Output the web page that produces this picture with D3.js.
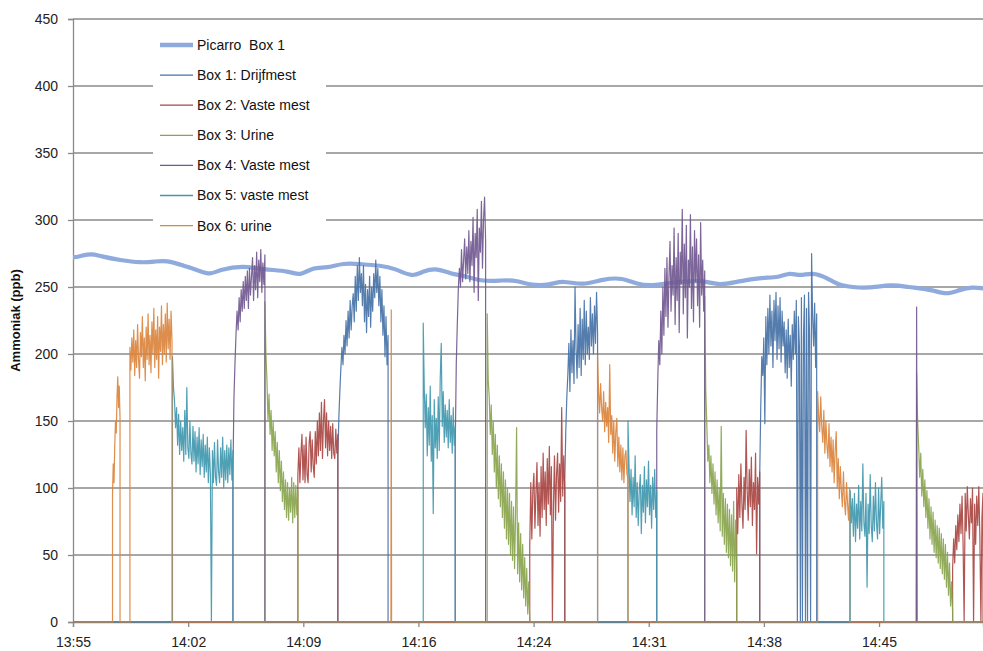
<!DOCTYPE html>
<html>
<head>
<meta charset="utf-8">
<script src="https://cdn.jsdelivr.net/npm/d3@7"></script>
<style>
  html, body { margin: 0; padding: 0; background: #fff; }
  svg { display: block; font-family: "Liberation Sans", Arial, sans-serif; }
</style>
</head>
<body>
<svg id="chart" width="983" height="651"></svg>
<script>
// ---------- DATA (minutes after 13:55) ----------
const tickMinutes = [0, 7.2, 14.4, 21.6, 28.8, 36, 43.2, 50.4];
const tickLabels = ["13:55", "14:02", "14:09", "14:16", "14:24", "14:31", "14:38", "14:45"];
const yTicks = [0, 50, 100, 150, 200, 250, 300, 350, 400, 450];

const seriesNames = ["Picarro  Box 1", "Box 1: Drijfmest", "Box 2: Vaste mest", "Box 3: Urine",
                     "Box 4: Vaste mest", "Box 5: vaste mest", "Box 6: urine"];
const seriesColors = ["#8FAADC", "#4572A7", "#AA4643", "#89A54E", "#71588F", "#4198AF", "#DB843D"];

const picarroTime = [0, 0.44, 1.17, 1.69, 2.94, 4.29, 5.13, 5.86, 6.88, 7.94, 8.56, 9.19, 10.63, 11.88,
  13.56, 14.19, 15.0, 15.88, 16.88, 18.06, 19.19, 20.13, 21.25, 21.88, 22.81, 23.56, 24.63, 25.63,
  26.88, 27.75, 28.69, 29.81, 30.63, 31.88, 33.13, 34.38, 35.25, 36.25, 37.31, 38.25, 39.38, 40.44,
  41.5, 42.94, 44.19, 44.81, 45.44, 46.25, 47.13, 47.94, 48.75, 49.63, 51.25, 52.13, 53.75, 54.63,
  55.44, 56.25, 56.88];
const picarroValue = [272, 273, 275, 273, 270, 268, 269, 270, 266, 262, 259, 263, 266, 263,
  262, 258, 265, 264, 268, 267, 266, 264, 257, 262, 264, 260, 258, 254, 255, 255, 251, 251.5, 255,
  251, 256, 257, 252, 251, 253, 254, 255, 251, 254, 257, 257, 261, 258, 261, 257, 251, 250, 249,
  252, 250, 248, 244, 248, 250, 249];

// Box 1: Drijfmest
const box1Segments = [
  {start: 16.56, end: 19.7, values: [123,153,173,190,205,192,214,200,225,206,232,212,240,218,236,245,224,258,232,266,240,272,246,260,236,266,224,252,216,248,228,258,220,250,232,260,242,270,246,264,236,258,224,248,214,236,198,228,192,214]},
  {start: 30.75, end: 32.8, values: [106,143,168,185,208,172,218,186,210,178,250,204,182,222,190,234,184,226,196,240,192,232,200,220,196,242,206,230,200,236,208,246,216]},
  {start: 42.94, end: 46.5, values: [111,160,198,184,212,148,228,192,234,200,244,206,232,190,240,210,246,196,236,204,242,194,232,206,224,186,218,182,226,190,214,176,222,196,232,200,240,0,228,206,0,242,0,212,244,0,234,0,246,214,0,275,228,206,238,190,230]}
];
// Box 2: Vaste mest
const box2Segments = [
  {start: 14.06, end: 16.56, values: [110,130,104,126,140,106,132,104,138,110,104,134,142,112,136,116,108,142,118,150,124,156,128,164,122,150,166,130,156,124,150,128,146,122,148,126,122,144,126,140]},
  {start: 28.56, end: 30.75, values: [56,104,62,98,111,70,96,119,72,104,64,116,78,126,84,112,72,122,88,131,80,116,0,88,124,76,110,126,82,118,90,160,94,124,98]},
  {start: 41.5, end: 42.94, values: [100,66,110,78,118,88,70,108,84,143,98,76,114,86,123,72,104,84,126,51,108,88,112]},
  {start: 55.0, end: 56.9, values: [40,62,44,72,54,80,60,88,66,94,58,0,96,68,101,80,62,92,74,100,0,88,58,94,72,101,64,0,78,96]}
];
// Box 3: Urine
const box3Segments = [
  {start: 12.0, end: 14.06, values: [239,200,180,150,170,140,158,128,150,124,142,112,134,104,128,98,120,90,112,84,106,78,104,76,100,82,108,74,104,78,102,80,98]},
  {start: 25.9, end: 28.56, values: [230,180,168,140,162,125,150,112,140,100,132,92,124,86,118,78,112,70,106,62,100,58,96,50,90,46,86,40,80,145,36,74,30,66,24,58,18,48,12,40,6,30,0]},
  {start: 39.5, end: 41.5, values: [243,173,148,120,132,104,124,96,118,88,112,80,106,74,100,68,146,64,96,58,92,52,88,48,84,42,80,38,90,30,76,40]},
  {start: 52.75, end: 55.0, values: [186,150,131,108,126,94,114,86,106,78,98,70,92,62,86,58,82,52,76,48,72,44,70,40,66,36,62,32,58,26,52,20,44,12,30,7]}
];
// Box 4: Vaste mest
const box4Segments = [
  {start: 10.0, end: 12.0, values: [110,168,193,215,232,218,242,224,248,232,254,234,258,240,262,234,264,244,258,272,240,266,248,276,242,270,254,278,246,268,252,274]},
  {start: 23.9, end: 25.8, values: [130,193,223,250,264,250,278,254,270,286,256,280,260,292,254,284,266,302,246,290,272,308,240,294,276,314,264,300,317,284]},
  {start: 36.5, end: 39.5, values: [143,180,210,192,232,200,250,214,264,228,272,220,258,284,232,266,244,294,222,272,240,290,216,276,252,308,230,282,242,296,212,270,250,304,234,280,224,292,254,286,236,274,220,298,244,270,232,262]},
  {start: 52.72, end: 52.78, values: [235]}
];
// Box 5: vaste mest
const box5Segments = [
  {start: 6.22, end: 10.0, values: [198,175,165,145,160,132,155,125,150,128,145,120,158,125,175,130,122,150,126,118,146,120,142,112,138,118,145,110,136,116,140,108,132,112,138,104,130,110,0,128,104,134,108,102,136,112,104,130,108,138,100,128,106,132,104,130,110,136,106,128]},
  {start: 21.9, end: 23.9, values: [223,175,145,170,124,160,132,176,120,154,81,166,130,152,122,168,128,182,208,146,172,134,162,138,158,130,166,134,154,126,160,132,146]},
  {start: 34.7, end: 36.5, values: [150,118,90,114,80,108,86,124,78,104,72,98,110,66,102,82,116,74,106,86,120,80,102,70,108,84,114,78,98]},
  {start: 48.6, end: 50.7, values: [98,74,92,64,96,60,88,70,102,62,90,68,118,74,64,96,26,88,66,110,72,60,94,68,104,74,62,100,66,88,108,70,90]}
];
// Box 6: urine
const box6Segments = [
  {start: 2.47, end: 2.94, values: [95,118,104,132,150,141,168,183,160,176,152]},
  {start: 3.56, end: 6.19, values: [205,188,212,194,218,184,210,190,222,196,182,216,198,228,190,212,180,220,196,230,192,214,186,224,200,234,190,218,196,228,182,220,202,236,192,222,200,230,194,238,204,226,196,232,210]},
  {start: 19.88, end: 19.92, values: [233]},
  {start: 32.8, end: 34.7, values: [199,172,156,178,160,150,172,142,164,146,160,134,192,140,154,126,150,120,142,152,116,138,112,132,106,130,104,124,128,110,108]},
  {start: 46.56, end: 48.56, values: [172,154,142,168,146,134,158,126,150,132,122,148,116,138,112,136,104,128,142,100,122,92,116,98,86,112,90,80,104,88,76,100]}
];

const xMaxMinutes = 56.9;

// ---------- CHART ----------
const svg = d3.select("#chart");
const x = d3.scaleLinear().domain([0, xMaxMinutes]).range([73, 983]);
const y = d3.scaleLinear().domain([0, 450]).range([622, 19]);

// gridlines
svg.append("g").selectAll("line").data(yTicks.filter(d => d > 0)).join("line")
  .attr("x1", x(0)).attr("x2", x(xMaxMinutes))
  .attr("y1", d => y(d)).attr("y2", d => y(d))
  .attr("stroke", "#8a8a8a").attr("stroke-width", 1.3);

// y axis
const yAxis = svg.append("g").attr("transform", `translate(${x(0)},0)`)
  .call(d3.axisLeft(y).tickValues(yTicks).tickSize(5).tickPadding(10));
yAxis.select(".domain").attr("stroke", "#8a8a8a").attr("stroke-width", 1.3);
yAxis.selectAll(".tick line").attr("stroke", "#8a8a8a").attr("stroke-width", 1.3);
yAxis.selectAll(".tick text").attr("font-size", 14).attr("fill", "#222")
  .attr("font-family", "Liberation Sans, Arial, sans-serif");

// x axis
const xAxis = svg.append("g").attr("transform", `translate(0,${y(0)})`)
  .call(d3.axisBottom(x).tickValues(tickMinutes).tickFormat((d, i) => tickLabels[i]).tickSize(5).tickPadding(10));
xAxis.select(".domain").attr("stroke", "#8a8a8a").attr("stroke-width", 1.3);
xAxis.selectAll(".tick line").attr("stroke", "#8a8a8a").attr("stroke-width", 1.3);
xAxis.selectAll(".tick text").attr("font-size", 14).attr("fill", "#222")
  .attr("font-family", "Liberation Sans, Arial, sans-serif");

// y axis title
svg.append("text")
  .attr("transform", `translate(20,${y(225)}) rotate(-90)`)
  .attr("text-anchor", "middle")
  .attr("font-size", 13).attr("font-weight", "bold").attr("fill", "#111")
  .text("Ammoniak (ppb)");

// build a box series as a path through its segments (zero outside the segments)
function buildSeries(segments) {
  const pts = [[0, 0]];
  segments.forEach(s => {
    pts.push([s.start, 0]);
    const n = s.values.length;
    s.values.forEach((v, i) => {
      const t = n === 1 ? (s.start + s.end) / 2 : s.start + i * (s.end - s.start) / (n - 1);
      pts.push([t, v]);
    });
    pts.push([s.end, 0]);
  });
  pts.push([xMaxMinutes, 0]);
  return pts;
}

svg.append("clipPath").attr("id", "plotclip").append("rect")
  .attr("x", x(0)).attr("y", y(450) - 2).attr("width", x(xMaxMinutes) - x(0) + 5).attr("height", y(0) - y(450) + 4);

const plot = svg.append("g").attr("clip-path", "url(#plotclip)");

// Picarro
const picarro = picarroTime.map((t, i) => [t, picarroValue[i]]);
plot.append("path").datum(picarro)
  .attr("fill", "none").attr("stroke", seriesColors[0]).attr("stroke-width", 4.2)
  .attr("stroke-linejoin", "round").attr("stroke-linecap", "round")
  .attr("d", d3.line().x(d => x(d[0])).y(d => y(d[1])).curve(d3.curveBasis));

const boxes = [box1Segments, box2Segments, box3Segments, box4Segments, box5Segments, box6Segments];
const lineGen = d3.line().x(d => x(d[0])).y(d => y(d[1]));
boxes.forEach((segs, i) => {
  plot.append("path").datum(buildSeries(segs))
    .attr("fill", "none").attr("stroke", seriesColors[i + 1]).attr("stroke-width", 1.2)
    .attr("stroke-opacity", 0.92).attr("stroke-linejoin", "round")
    .attr("d", lineGen);
});

// legend
const legend = svg.append("g");
legend.append("rect").attr("x", 153).attr("y", 24).attr("width", 173).attr("height", 216).attr("fill", "#fff");
seriesNames.forEach((name, i) => {
  const cy = 45 + i * 30.1;
  legend.append("line").attr("x1", 160).attr("x2", 193).attr("y1", cy).attr("y2", cy)
    .attr("stroke", seriesColors[i]).attr("stroke-width", i === 0 ? 4.5 : 1.3);
  legend.append("text").attr("x", 197).attr("y", cy).attr("dy", "0.35em")
    .attr("font-size", 14).attr("fill", "#111")
    .style("white-space", "pre")
    .text(name);
});
</script>
</body>
</html>
